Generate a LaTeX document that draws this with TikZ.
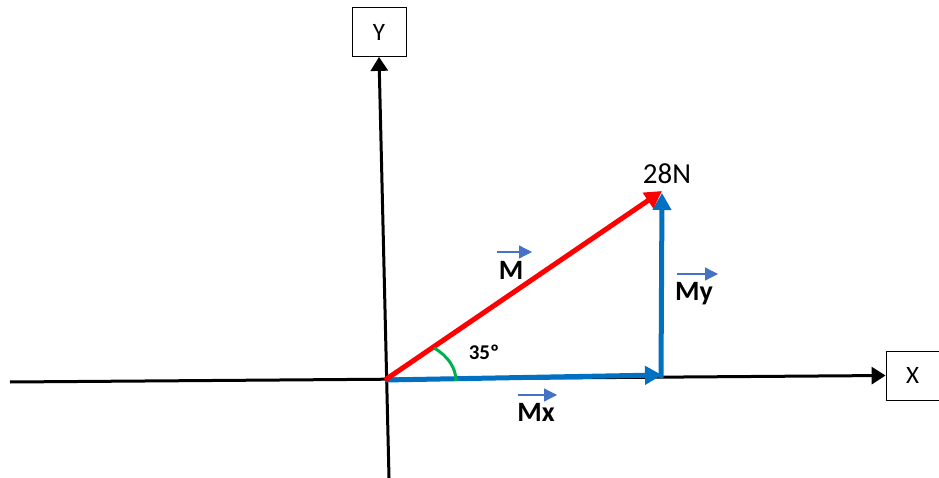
\documentclass[tikz,border=0pt]{standalone}
\usepackage{fontspec}
\setmainfont{Carlito}
\usetikzlibrary{arrows.meta}
\definecolor{vred}{HTML}{FF0000}
\definecolor{vblue}{HTML}{0070C0}
\definecolor{vgreen}{HTML}{00B050}
\definecolor{lblue}{HTML}{4472C4}
\begin{document}
\begin{tikzpicture}[x=1pt,y=-1pt,
  axis/.style={line width=3pt,-{Triangle[length=14pt,width=17pt]}},
  axbox/.style={draw,line width=0.8pt,minimum width=54pt,minimum height=49pt,inner sep=0pt,font=\fontsize{25}{28}\selectfont},
  vec/.style={line width=5pt,-{Triangle[length=17pt,width=18pt]}},
  lbl/.style={font=\bfseries\fontsize{28}{31}\selectfont,inner sep=0pt},
  varrow/.style={draw=lblue,line width=1.3pt,-{Triangle[length=13pt,width=13pt]}}]
\useasboundingbox (0,0) rectangle (939,478);
% boxes
\node[axbox] (ybox) at (379,32) {Y};
\node[axbox,minimum width=53pt] (xbox) at (912.5,375.5) {X};
% axes
\coordinate (yb) at (389,478);
\coordinate (xl) at (10,382);
\draw[axis] (yb) -- (ybox.south);
\draw[axis] (xl) -- (xbox.west);
% points
\coordinate (O) at (385,380);
\coordinate (T) at (662,191);
\coordinate (C) at (661,375);
\coordinate (Cb) at (661,378);
\coordinate (Cv) at (662,193);
% vectors
\draw[vec,draw=vblue,fill=vblue] (Cb) -- (Cv);
\draw[vec,draw=vblue,fill=vblue,shorten >=-1pt] (O) -- (C);
\draw[vec,draw=vred,fill=vred] (O) -- (T);
% angle arc
\coordinate (a1) at (434,348);
\coordinate (a2) at (456,381);
\draw[vgreen,line width=3pt] (a1) .. controls (448,356) and (456,368) .. (a2);
% labels
\node[font=\fontsize{29}{32}\selectfont,inner sep=0pt] (f) at (667,174) {28N};
\node[font=\bfseries\fontsize{21}{24}\selectfont,inner sep=0pt] (ang) at (484,352) {35º};
\node[lbl] (M) at (511,270) {M};
\node[lbl] (Mx) at (536,412) {Mx};
\node[lbl] (My) at (694,294) {My};
\coordinate (m1) at (497,252); \coordinate (m2) at (532,252);
\coordinate (x1) at (518,395); \coordinate (x2) at (557,395);
\coordinate (y1) at (677,274); \coordinate (y2) at (718,274);
\draw[varrow] (m1) -- (m2);
\draw[varrow] (x1) -- (x2);
\draw[varrow] (y1) -- (y2);
\end{tikzpicture}
\end{document}
